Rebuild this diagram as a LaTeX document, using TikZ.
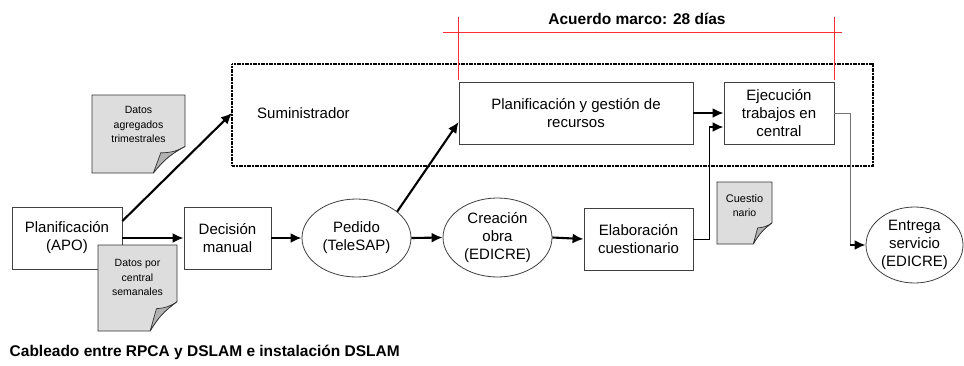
\documentclass[tikz,border=0pt]{standalone}
\usepackage{fontspec}
\setmainfont{Liberation Sans}
\usetikzlibrary{arrows,arrows.meta}
\usetikzlibrary{shapes,positioning,calc}

\definecolor{notagris}{RGB}{221,221,221}
\definecolor{pliegue}{RGB}{178,178,178}
\definecolor{rojo}{RGB}{255,45,55}

% hoja con esquina doblada: x0 y0 x1 y1 nombre texto
\newcommand{\nota}[6]{%
  \filldraw[fill=notagris, draw=black!80, line width=0.7pt] (#1,#2) -- (#3,#2) -- ($(#3,#2)!0.66!(#3,#4)$)
    to[bend right=12] ($(#1,#4)!0.66!(#3,#4)$) -- (#1,#4) -- cycle;
  \filldraw[fill=pliegue, draw=black!80, line width=0.7pt] ($(#1,#4)!0.66!(#3,#4)$) -- ($(#1,#2)!0.74!(#3,#4)$)
    to[bend right=15] ($(#3,#2)!0.66!(#3,#4)$) to[bend right=12] ($(#1,#4)!0.66!(#3,#4)$);
  \node[notatxt] (#5) at ($(#1,#2)!0.5!(#3,#2)+(0,{0.38*(#4-#2)})$) {#6};
}

\begin{document}
\begin{tikzpicture}[x=1pt, y=-1pt,
    caja/.style={draw=black!75, line width=0.8pt, fill=white, inner sep=0pt, align=center,
      font=\fontsize{15}{18}\selectfont},
    elipse/.style={caja, ellipse},
    notatxt/.style={inner sep=0pt, align=center, font=\fontsize{10.5}{14.5}\selectfont},
    flecha/.style={line width=2.1pt, -{Latex[length=11pt,width=10pt]}},
    regla/.style={rojo, line width=1.1pt}]
  \useasboundingbox (0,0) rectangle (964,365);

  % proveedor
  \draw[line width=2pt, dash pattern=on 1.2pt off 0.4pt] (232,64) rectangle (873,166);
  \coordinate (sumin) at (232,115);
  \node[anchor=west, inner sep=0pt, font=\fontsize{15}{18}\selectfont] (sumtxt) at (257,113) {Suministrador};
  \node[caja, minimum width=234pt, minimum height=62pt] (pg) at (576,113) {Planificación y gestión de\\recursos};
  \node[caja, minimum width=110pt, minimum height=62pt] (ejec) at (779,113) {Ejecución\\trabajos en\\central};

  % plazo
  \node[font=\fontsize{15.5}{18}\selectfont\bfseries] (acuerdo) at (637,19) {Acuerdo marco: 28 días};
  \draw[regla] (443,32.5) -- (842,32.5);
  \draw[regla] ($(pg.north west)+(0,-2)$) -- ($(pg.north west)+(0,-65)$);
  \draw[regla] ($(ejec.north east)+(0,-2)$) -- ($(ejec.north east)+(0,-65)$);

  % flujo
  \node[caja, minimum width=110pt, minimum height=62pt] (apo) at (67,238) {Planificación\\(APO)};
  \node[caja, minimum width=87pt, minimum height=62pt] (dec) at (227.5,238) {Decisión\\manual};
  \node[elipse, minimum width=109pt, minimum height=78pt] (ped) at (356.5,238) {Pedido\\(TeleSAP)};
  \node[elipse, minimum width=109pt, minimum height=79pt] (crea) at (497.5,237.5) {Creación\\obra\\(EDICRE)};
  \node[caja, minimum width=109pt, minimum height=62pt] (elab) at (638.5,239) {Elaboración\\cuestionario};
  \node[elipse, minimum width=97pt, minimum height=76pt] (ent) at (914.5,245) {Entrega\\servicio\\(EDICRE)};

  \nota{92}{95}{185}{173}{dag}{Datos\\agregados\\trimestrales}
  \nota{98}{245}{177}{331}{dpc}{Datos por\\central\\semanales}
  \nota{717}{182}{772}{244}{cue}{\fontsize{11}{15.5}\selectfont Cuestio\\nario}

  \draw[flecha] ($(apo.east)+(0,-17)$) -- ($(sumin)+(0,-2)$);
  \draw[flecha] (apo.east) -- (dec.west);
  \draw[flecha] (dec.east) -- (ped.west);
  \draw[flecha] (ped.east) -- (crea.west);
  \draw[flecha] (crea.east) -- (elab.west);
  \draw[flecha] (ped.33) -- ($(pg.west)+(0,9)$);
  \draw[flecha] (pg.east) -- (ejec.west);

  \coordinate (subida) at (709,127);
  \draw[line width=0.8pt] (elab.east) -| (subida);
  \draw[flecha] (subida) -- (subida -| ejec.west);
  \coordinate (bajada) at (850,245);
  \draw[black!55, line width=0.9pt] (ejec.east) -| (bajada);
  \draw[flecha] (bajada) -- (ent.west);

  \node[anchor=west, inner sep=0pt, font=\fontsize{15.5}{18}\selectfont\bfseries] (cableado) at (9.5,352) {Cableado entre RPCA y DSLAM e instalación DSLAM};
\end{tikzpicture}
\end{document}
